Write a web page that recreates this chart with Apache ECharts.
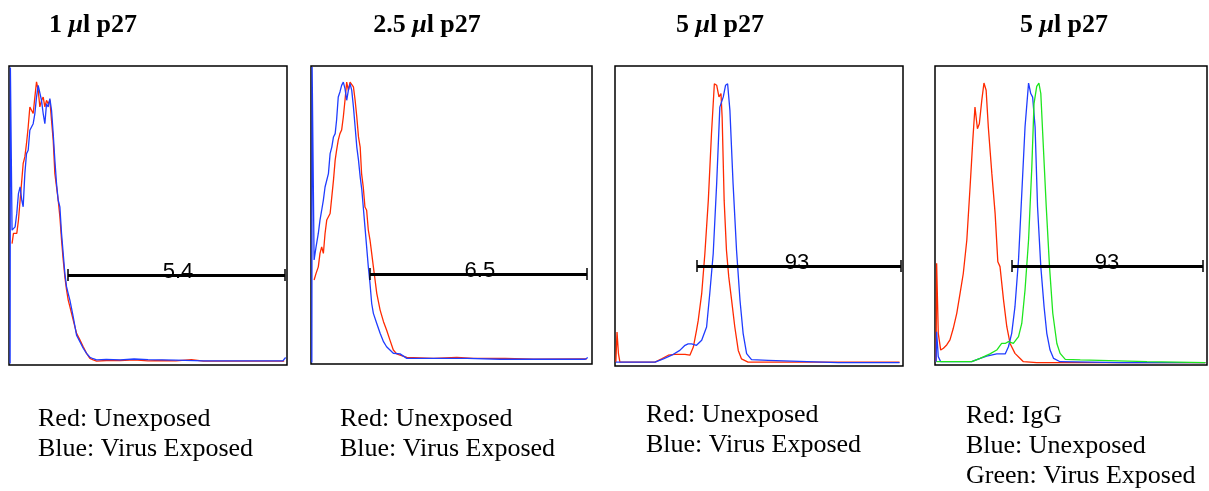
<!DOCTYPE html>
<html>
<head>
<meta charset="utf-8">
<script src="https://cdn.jsdelivr.net/npm/echarts@6/dist/echarts.min.js"></script>
<style>
html,body{margin:0;padding:0;background:#fff;}
#chart{width:1209px;height:491px;}
</style>
</head>
<body>
<div id="chart"></div>
<script>
// ---- Data (x: % of display range, y: % of max count) ----
const panelTitles = [["1 ", "l p27"], ["2.5 ", "l p27"], ["5 ", "l p27"], ["5 ", "l p27"]];
const legendTexts = [
  ["Red: Unexposed", "Blue: Virus Exposed"],
  ["Red: Unexposed", "Blue: Virus Exposed"],
  ["Red: Unexposed", "Blue: Virus Exposed"],
  ["Red: IgG", "Blue: Unexposed", "Green: Virus Exposed"]
];
const gateStart = [21.2, 21.0, 28.5, 28.3];
const gateEnd = [99.3, 98.2, 99.3, 98.5];
const gateLevel = [30.1, 30.2, 33.3, 33.1];
const gateLabelX = [60.8, 60.1, 63.2, 63.2];
const gateLabels = ["5.4", "6.5", "93", "93"];

const p1Red = [[1.1,40.6],[1.6,44.0],[2.8,44.0],[3.4,48.4],[4.0,55.1],[4.6,61.8],[5.1,67.4],[5.7,69.6],[6.3,74.1],[6.9,79.6],[7.5,86.3],[8.1,85.2],[8.7,84.1],[9.3,89.6],[9.9,94.7],[10.5,91.9],[11.1,86.3],[11.7,88.5],[12.3,89.6],[12.9,86.3],[13.5,88.5],[14.1,87.4],[14.7,88.5],[15.3,81.8],[15.9,75.2],[16.5,64.0],[17.1,59.6],[17.7,55.1],[18.3,49.6],[18.9,41.8],[19.5,35.1],[20.1,29.5],[20.7,25.1],[21.3,21.7],[21.9,19.5],[22.5,17.3],[23.1,15.0],[24.3,10.6],[25.5,8.4],[26.7,6.1],[27.9,3.9],[29.1,2.2],[30.3,1.7],[31.5,1.3],[35,1.5],[40,1.5],[45,1.7],[50,1.4],[55,1.5],[60,1.4],[65.6,1.8],[70,1.3],[80,1.3],[90,1.3],[99,1.3]];
const p1Blue = [[0.4,0.5],[0.5,99.5],[1.1,45.1],[2.2,46.2],[2.8,50.7],[3.4,57.3],[4.0,59.6],[4.6,55.1],[5.1,52.9],[5.7,64.0],[6.3,70.7],[6.9,71.8],[7.5,78.5],[8.1,78.5],[8.7,80.7],[9.3,84.1],[9.9,89.6],[10.5,93.5],[11.1,94.1],[11.7,88.5],[12.3,84.1],[12.9,80.7],[13.5,87.4],[14.1,86.3],[14.7,89.1],[15.3,85.2],[15.9,77.4],[16.5,68.5],[17.1,60.7],[17.7,55.1],[18.3,52.9],[18.9,44.0],[19.5,37.3],[20.1,30.6],[20.7,26.2],[21.3,23.9],[21.9,21.7],[22.5,18.9],[23.1,16.1],[24.3,10.0],[25.5,7.8],[26.7,5.6],[27.9,3.9],[29.1,2.6],[30.3,2.1],[31.5,1.7],[35,1.9],[40,1.7],[45,2.0],[50,1.8],[60,1.6],[70,1.4],[80,1.4],[90,1.4],[98.5,1.4],[99.5,2.5]];

const p2Red = [[1.1,28.2],[1.8,30.4],[2.6,32.6],[3.2,37.1],[3.8,39.3],[4.4,37.1],[5.0,43.8],[5.6,48.3],[6.8,50.5],[7.4,56.1],[8.0,61.7],[8.6,68.4],[9.1,71.7],[9.7,75.1],[10.3,77.3],[10.9,78.5],[11.5,82.9],[12.1,88.5],[12.7,94.6],[13.3,91.8],[13.9,94.6],[14.5,94.6],[15.1,93.0],[15.7,88.5],[16.3,82.9],[16.9,76.2],[17.5,72.8],[18.0,63.9],[18.6,59.4],[19.2,52.7],[19.8,51.6],[20.4,44.9],[21.0,41.6],[21.6,37.1],[22.2,32.6],[22.8,28.2],[23.4,23.7],[24.6,18.1],[25.8,14.2],[26.9,11.4],[28.1,8.0],[29.3,4.7],[30.5,3.4],[31.7,3.0],[34.1,2.2],[43.6,1.9],[51.9,2.2],[57.8,1.9],[69.1,1.9],[79.2,1.6],[98.2,1.7]];
const p2Blue = [[0.3,0.5],[0.4,99.7],[1.1,34.9],[1.8,39.3],[2.6,43.8],[3.2,48.3],[3.8,51.6],[4.4,55.0],[5.0,59.4],[5.6,60.0],[6.2,63.9],[6.8,70.6],[7.4,72.8],[8.0,76.2],[8.6,77.3],[9.1,81.8],[9.7,89.6],[10.3,91.3],[10.9,93.5],[11.5,94.6],[12.1,92.4],[12.7,88.5],[13.3,91.8],[13.9,94.1],[14.5,91.8],[15.1,86.3],[15.7,79.6],[16.3,72.8],[16.9,68.4],[17.5,62.8],[18.1,58.3],[18.6,52.7],[19.2,46.0],[19.8,39.3],[20.4,32.6],[21.0,27.0],[21.6,20.3],[22.2,17.0],[23.4,13.6],[24.6,10.3],[25.8,7.5],[26.9,5.8],[28.1,4.7],[29.3,3.6],[31.7,3.4],[34.1,1.9],[43.6,1.9],[55.5,1.9],[67.3,1.6],[79.2,1.6],[97.6,1.6],[98.5,2.2]];

const p3Red = [[0.3,1.3],[0.7,11.3],[1.2,4.1],[1.7,1.3],[8.1,1.3],[13.9,1.3],[16.2,2.4],[18.5,3.6],[20.8,3.9],[24.3,3.9],[26.0,3.6],[27.2,6.3],[28.3,11.9],[28.9,15.2],[30.1,24.1],[31.2,37.4],[32.4,55.2],[33.5,77.4],[34.5,94.1],[35.3,93.6],[36.1,89.7],[36.8,90.8],[37.2,83.0],[37.9,55.2],[38.7,38.6],[39.5,29.7],[40.5,21.9],[41.6,13.0],[42.8,5.2],[43.9,2.4],[46.2,1.3],[54.3,1.3],[77.5,1.3],[98.8,1.3]];
const p3Blue = [[0.3,1.3],[8.1,1.3],[13.9,1.3],[16.8,2.4],[19.7,3.6],[22.5,5.2],[24.3,6.9],[25.4,7.4],[26.6,7.4],[28.3,6.9],[30.1,8.6],[31.8,13.0],[32.9,24.1],[34.1,37.4],[35.3,60.8],[36.4,86.3],[37.6,89.7],[38.4,93.6],[39.1,94.1],[39.9,85.2],[41.0,60.8],[42.2,38.6],[43.4,21.9],[44.5,10.8],[45.7,4.1],[47.4,2.1],[53.2,1.9],[53.8,1.3],[77.5,1.1],[98.8,1.1]];

const p4Red = [[0.4,1.0],[0.6,34.0],[1.2,10.6],[2.1,5.0],[3.1,5.6],[4.3,6.7],[5.5,8.4],[6.7,12.2],[8.0,17.3],[9.2,23.9],[10.4,30.6],[11.7,41.8],[12.9,59.6],[13.9,75.2],[14.7,86.3],[15.6,79.0],[16.3,80.7],[17.2,88.5],[18.0,94.3],[18.8,91.9],[19.6,79.6],[20.9,64.0],[22.1,50.7],[23.1,34.5],[23.9,32.9],[25.2,21.7],[26.4,12.8],[27.6,7.2],[29.4,3.9],[31.3,2.2],[32.5,1.1],[37.4,0.8],[55.8,0.8],[99.4,0.8]];
const p4Blue = [[0.4,1.0],[0.6,11.1],[1.2,2.8],[2.1,1.1],[6.7,1.1],[13.5,1.1],[16.6,2.2],[19.0,3.0],[22.7,3.7],[25.8,3.7],[27.0,6.1],[28.2,10.6],[29.4,19.5],[30.7,35.1],[31.9,57.3],[33.1,79.6],[34.4,94.3],[35.2,90.8],[35.9,89.6],[36.8,79.6],[37.7,52.9],[38.9,32.9],[40.1,19.5],[41.1,10.6],[42.3,5.0],[43.6,2.2],[46.0,1.1],[68.1,0.8],[99.4,0.8]];
const p4Green = [[0.6,1.1],[13.5,1.1],[16.6,2.2],[20.2,3.7],[22.7,5.0],[24.5,7.2],[25.8,7.2],[27.0,7.8],[28.8,7.2],[30.7,9.5],[31.9,13.9],[33.1,25.1],[34.4,41.8],[35.6,66.3],[36.4,87.4],[37.4,93.2],[38.2,94.3],[38.9,90.8],[39.6,77.4],[40.9,52.9],[42.1,32.9],[43.3,17.3],[44.8,7.2],[46.0,3.9],[47.9,1.9],[53.4,1.7],[54.0,1.1],[77.9,1.1],[99.4,0.8]];

const panelCurves = [
  [p1Red, p1Blue],
  [p2Red, p2Blue],
  [p3Red, p3Blue],
  [p4Red, p4Blue, p4Green]
];

// ---- Layout / style ----
const boxes = [
  {left: 9, top: 66, width: 278, height: 299},
  {left: 311, top: 66, width: 281, height: 298},
  {left: 615, top: 66, width: 288, height: 300},
  {left: 935, top: 66, width: 272, height: 299}
];
const titleCenters = [88, 422, 715, 1059];
const legendPos = [[38, 420], [340, 420], [646, 416], [966, 417]];
const curveColors = ['#ff2a00', '#1f3cff', '#1ee61e'];

const chart = echarts.init(document.getElementById('chart'), null, {renderer: 'canvas'});

const grids = [], xAxes = [], yAxes = [], series = [], titles = [], graphics = [];

boxes.forEach((b, i) => {
  grids.push(Object.assign({show: true, borderColor: '#000', borderWidth: 1.5, backgroundColor: 'transparent', containLabel: false}, b));
  xAxes.push({type: 'value', gridIndex: i, min: 0, max: 100, show: false});
  yAxes.push({type: 'value', gridIndex: i, min: 0, max: 100, show: false});

  panelCurves[i].forEach((d, k) => {
    series.push({
      type: 'line', xAxisIndex: i, yAxisIndex: i, data: d,
      showSymbol: false, symbol: 'none', smooth: false, silent: true,
      lineStyle: {color: curveColors[k], width: 1.3}, z: 2 + k, animation: false
    });
  });

  const gy = gateLevel[i], x1 = gateStart[i], x2 = gateEnd[i];
  const tick = 6 / b.height * 100;
  series.push({
    type: 'scatter', xAxisIndex: i, yAxisIndex: i,
    data: [[gateLabelX[i], gy]], symbolSize: 0, silent: true, animation: false, z: 5,
    label: {show: true, position: 'top', distance: -8, formatter: gateLabels[i],
      fontFamily: 'Liberation Sans, Arial, sans-serif', fontSize: 22, color: '#000', opacity: 1},
    markLine: {
      silent: true, symbol: ['none', 'none'], animation: false, z: 6,
      label: {show: false},
      data: [
        [{coord: [x1, gy], lineStyle: {color: '#000', width: 3, type: 'solid'}}, {coord: [x2, gy]}],
        [{coord: [x1, gy - tick], lineStyle: {color: '#000', width: 1.5, type: 'solid'}}, {coord: [x1, gy + tick]}],
        [{coord: [x2, gy - tick], lineStyle: {color: '#000', width: 1.5, type: 'solid'}}, {coord: [x2, gy + tick]}]
      ]
    }
  });

  titles.push({
    text: '{a|' + panelTitles[i][0] + '}{m|μ}{a|' + panelTitles[i][1] + '}',
    left: titleCenters[i], top: 7, textAlign: 'center',
    textStyle: {
      rich: {
        a: {fontFamily: 'Liberation Serif, Times New Roman, serif', fontWeight: 'bold', fontSize: 26, color: '#000'},
        m: {fontFamily: 'Liberation Serif, Times New Roman, serif', fontWeight: 'bold', fontStyle: 'italic', fontSize: 26, color: '#000'}
      }
    }
  });

  graphics.push({
    type: 'text', left: legendPos[i][0], top: legendPos[i][1] - 16,
    style: {text: legendTexts[i].join('\n'), font: '26px "Liberation Serif", "Times New Roman", serif',
      fill: '#000', lineHeight: 30}
  });
});

chart.setOption({
  animation: false,
  backgroundColor: '#fff',
  title: titles,
  grid: grids,
  xAxis: xAxes,
  yAxis: yAxes,
  series: series,
  graphic: graphics
});
</script>
</body>
</html>
